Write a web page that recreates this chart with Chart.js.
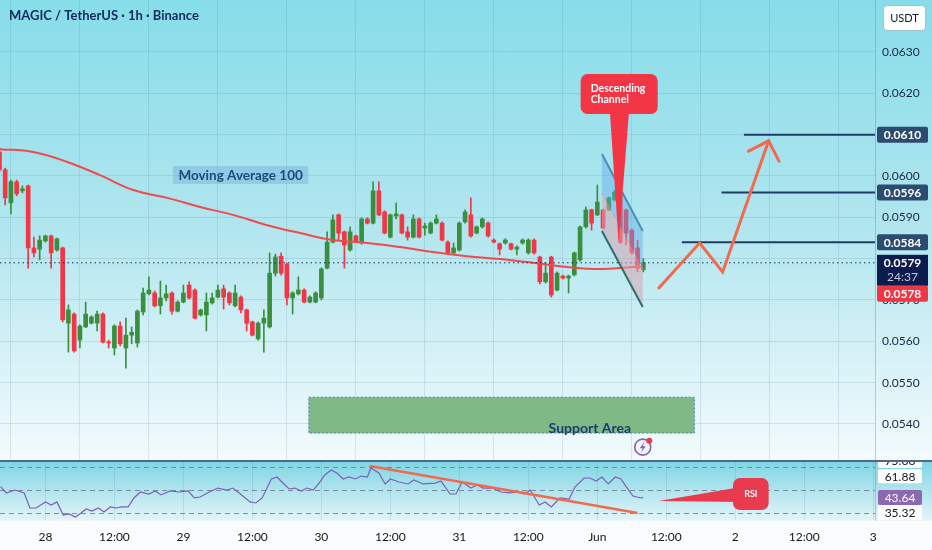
<!DOCTYPE html>
<html>
<head>
<meta charset="utf-8">
<script src="https://cdn.jsdelivr.net/npm/chart.js"></script>
<style>
html, body { margin: 0; padding: 0; }
body { width: 932px; height: 550px; overflow: hidden; background: #fafcfd; }
#main { position: absolute; left: 0; top: 0; width: 932px; height: 460px;
        background: linear-gradient(to bottom, #86dde9 0%, #b2e6ef 50%, #f3fbfd 100%); }
#rsi { position: absolute; left: 0; top: 460px; width: 932px; height: 90px;
       background: linear-gradient(to bottom, #7dd5e4 0px, #e2f4f8 60px, #fafcfd 61px, #fafcfd 90px); }
</style>
</head>
<body>
<div id="main"><canvas id="mainChart"></canvas></div>
<div id="rsi"><canvas id="rsiChart"></canvas></div>
<script>
// hourly candles, first one at May 27 16:00 (hour -8 from May 28 00:00)
const startHour = -8;
const candleOpen = [0.06058,0.06015,0.05935,0.05986,0.05964,0.05976,0.05826,0.05823,0.05843,0.05855,
  0.05821,0.05826,0.05644,0.05666,0.05603,0.05635,0.05644,0.05644,0.05666,0.05598,
  0.05584,0.05637,0.05584,0.05615,0.05596,0.05671,0.05715,0.05717,0.05686,0.05705,
  0.05717,0.05673,0.05695,0.05736,0.05724,0.05664,0.05664,0.05693,0.05707,0.05727,
  0.05717,0.05686,0.05707,0.05676,0.05647,0.05606,0.05644,0.05635,0.05765,0.05806,
  0.05787,0.05705,0.05715,0.05724,0.05695,0.05695,0.05705,0.05777,0.05840,0.05906,
  0.05865,0.05821,0.05855,0.05838,0.05896,0.05886,0.05964,0.05913,0.05852,0.05903,
  0.05906,0.05865,0.05852,0.05896,0.05874,0.05862,0.05886,0.05886,0.05840,0.05814,
  0.05821,0.05889,0.05906,0.05862,0.05877,0.05886,0.05845,0.05836,0.05838,0.05836,
  0.05823,0.05838,0.05814,0.05845,0.05804,0.05744,0.05804,0.05724,0.05758,0.05753,
  0.05761,0.05797,0.05877,0.05918,0.05906,0.05918,0.05918,0.05942,0.05959,0.05918,
  0.05869,0.05826,0.05773];
const candleHigh = [0.06068,0.06019,0.05990,0.05990,0.05976,0.05978,0.05852,0.05855,0.05857,0.05857,
  0.05850,0.05828,0.05688,0.05669,0.05640,0.05695,0.05662,0.05673,0.05669,0.05603,
  0.05640,0.05647,0.05656,0.05635,0.05676,0.05729,0.05756,0.05722,0.05746,0.05736,
  0.05720,0.05698,0.05736,0.05744,0.05727,0.05678,0.05717,0.05717,0.05736,0.05736,
  0.05720,0.05736,0.05710,0.05678,0.05649,0.05647,0.05676,0.05814,0.05811,0.05814,
  0.05790,0.05720,0.05756,0.05727,0.05710,0.05720,0.05778,0.05865,0.05906,0.05908,
  0.05867,0.05877,0.05857,0.05899,0.05899,0.05986,0.05986,0.05916,0.05908,0.05935,
  0.05908,0.05877,0.05906,0.05899,0.05886,0.05889,0.05906,0.05889,0.05843,0.05838,
  0.05889,0.05918,0.05947,0.05879,0.05899,0.05889,0.05848,0.05838,0.05848,0.05838,
  0.05831,0.05848,0.05848,0.05848,0.05806,0.05790,0.05806,0.05768,0.05760,0.05760,
  0.05816,0.05879,0.05925,0.05920,0.05978,0.05920,0.05949,0.05966,0.05964,0.05920,
  0.05872,0.05845,0.05800];
const candleLow = [0.06010,0.05930,0.05908,0.05952,0.05959,0.05777,0.05804,0.05797,0.05840,0.05777,
  0.05818,0.05647,0.05574,0.05574,0.05584,0.05633,0.05642,0.05625,0.05596,0.05584,
  0.05567,0.05589,0.05535,0.05594,0.05586,0.05664,0.05712,0.05683,0.05666,0.05698,
  0.05666,0.05671,0.05693,0.05702,0.05654,0.05661,0.05625,0.05690,0.05705,0.05678,
  0.05688,0.05683,0.05669,0.05625,0.05613,0.05603,0.05574,0.05632,0.05758,0.05760,
  0.05688,0.05666,0.05712,0.05693,0.05693,0.05693,0.05700,0.05775,0.05838,0.05845,
  0.05777,0.05818,0.05840,0.05835,0.05884,0.05884,0.05904,0.05860,0.05850,0.05896,
  0.05860,0.05845,0.05850,0.05850,0.05857,0.05860,0.05884,0.05843,0.05811,0.05811,
  0.05818,0.05886,0.05852,0.05860,0.05874,0.05852,0.05838,0.05809,0.05835,0.05821,
  0.05809,0.05835,0.05811,0.05811,0.05739,0.05741,0.05707,0.05722,0.05751,0.05717,
  0.05758,0.05794,0.05874,0.05869,0.05904,0.05872,0.05916,0.05940,0.05836,0.05833,
  0.05811,0.05768,0.05768];
const candleClose = [0.06015,0.05947,0.05986,0.05957,0.05969,0.05826,0.05814,0.05845,0.05855,0.05814,
  0.05848,0.05652,0.05676,0.05577,0.05637,0.05666,0.05659,0.05666,0.05598,0.05596,
  0.05637,0.05594,0.05615,0.05622,0.05673,0.05717,0.05724,0.05686,0.05705,0.05715,
  0.05673,0.05695,0.05717,0.05705,0.05656,0.05676,0.05695,0.05705,0.05724,0.05707,
  0.05693,0.05717,0.05676,0.05644,0.05615,0.05644,0.05656,0.05765,0.05804,0.05765,
  0.05705,0.05717,0.05724,0.05695,0.05707,0.05717,0.05775,0.05840,0.05894,0.05862,
  0.05833,0.05865,0.05843,0.05896,0.05886,0.05964,0.05906,0.05862,0.05906,0.05908,
  0.05862,0.05852,0.05896,0.05852,0.05879,0.05886,0.05896,0.05845,0.05814,0.05826,
  0.05886,0.05913,0.05855,0.05877,0.05896,0.05855,0.05840,0.05823,0.05845,0.05823,
  0.05828,0.05845,0.05845,0.05814,0.05744,0.05765,0.05712,0.05765,0.05753,0.05758,
  0.05814,0.05877,0.05918,0.05886,0.05937,0.05874,0.05947,0.05961,0.05840,0.05862,
  0.05814,0.05777,0.05790];

// moving average 100
const maHours = [-7.9,-2.1,3.8,9.5,15.3,21.2,26.9,32.6,38.6,44.3,50.0,56.0,61.7,67.4,73.3,79.1,84.8,90.7,96.5,102.2,104.0];
const maValues = [0.06065,0.06058,0.06034,0.06002,0.05966,0.05947,0.05925,0.05906,0.05881,0.05862,0.05845,
  0.05838,0.05828,0.05816,0.05806,0.05799,0.05790,0.05780,0.05775,0.05780,0.05780];

// RSI
const rsiHours = [-7.8,-6.8,-5.3,-3.7,-2.7,-1.6,0.0,1.0,2.0,3.1,4.1,5.2,6.2,7.1,8.1,9.2,10.2,11.3,12.3,13.3,
  14.4,15.4,16.5,18.0,19.1,20.1,21.7,23.3,24.8,25.9,26.9,28.5,30.0,31.6,32.6,33.7,35.6,36.6,37.7,39.3,
  40.3,41.3,42.4,43.4,44.5,45.5,46.6,47.6,48.6,49.7,50.7,51.8,52.8,53.9,54.9,56.0,56.6,58.0,59.1,60.0,
  61.5,63.1,64.1,65.7,67.8,68.8,70.4,71.4,72.5,74.0,75.1,76.1,77.7,79.3,80.8,82.2,83.3,84.3,85.9,86.9,
  88.0,89.5,91.1,92.1,93.7,94.7,95.8,96.8,97.9,99.1,100.1,101.2,102.2,103.6,104.0];
const rsiValues = [52.9,47.5,50.0,47.5,34.6,34.6,39.8,37.2,39.8,28.6,29.5,26.9,30.3,33.8,32.0,34.6,31.2,35.5,34.6,35.5,
  35.5,43.2,48.3,46.6,49.2,45.8,49.2,48.3,49.2,43.2,44.0,48.3,51.7,50.0,51.7,47.5,39.8,38.9,43.2,59.5,
  61.2,56.0,50.9,51.7,49.2,51.7,50.0,56.0,62.9,67.2,64.6,59.5,61.2,59.5,62.0,61.2,68.9,64.6,55.2,59.5,
  56.9,55.2,58.6,55.2,56.0,57.7,46.6,46.6,56.9,51.7,54.3,51.7,51.7,48.3,47.5,48.3,46.6,50.0,37.2,39.8,
  35.5,43.2,42.3,52.6,60.3,60.3,57.7,61.2,55.2,61.2,59.5,51.7,44.9,43.2,43.64];
const rsiGuides = [70, 50, 30];

// axis ticks
const timeTickHours = [0,12,24,36,48,60,72,84,96,108,120,132,144];
const timeTickLabels = ['28','12:00','29','12:00','30','12:00','31','12:00','Jun','12:00','2','12:00','3'];
const priceTicks = [0.0540,0.0550,0.0560,0.0570,0.0580,0.0590,0.0600,0.0610,0.0620,0.0630];
const hiddenPriceTicks = [0.0580, 0.0610];

// drawings
const levelPrices = [0.0610, 0.0596, 0.0584];
const levelStartHours = [121.5, 117.6, 110.7];
const lastPrice = 0.0579;
const maLastValue = 0.0578;
const pathHours = [106.7, 113.8, 117.8, 125.8];
const pathPrices = [0.05729, 0.05838, 0.05768, 0.06085];
const arrowWingHours = [122.3, 127.6];
const arrowWingPrices = [0.06060, 0.06036];
const channelHours = [96.8, 103.9];
const channelUpper = [0.06053, 0.05867];
const channelMid = [0.05959, 0.05777];
const channelLower = [0.05867, 0.05683];
const calloutBoxHours = [93.1, 106.5];
const calloutBoxPrices = [0.06247, 0.06150];
const calloutBaseHours = [98.2, 101.5];
const calloutTip = [99.7, 0.05840];
const supportHours = [45.8, 112.9];
const supportPrices = [0.05465, 0.05378];
const supportLabelAt = [94.7, 0.05390];
const maLabelHours = [22.2, 45.7];
const maLabelPrices = [0.06024, 0.05981];
const iconAt = [103.9, 0.05344];
const rsiTrendHours = [56.4, 103.0];
const rsiTrendValues = [70.6, 30.3];
const rsiCalloutTip = [106.7, 40.6];
const rsiCalloutBoxHours = [119.6, 125.8];
const rsiCalloutBoxValues = [60.3, 32.9];
const rsiTags = [75.00, 61.88, 43.64, 35.32];

const GREEN = '#3a8f3e';
const RED = '#f23645';
const FONT = 'Lato, "Open Sans", sans-serif';
const GRID = 'rgba(80,125,150,0.17)';

const candleHours = candleOpen.map((_, i) => startHour + i);
const candleColors = candleOpen.map((o, i) => candleClose[i] >= o ? GREEN : RED);

function sameValue(a, b) { return Math.abs(a - b) < 1e-9; }

function tag(ctx, yc, text, bg, fg, bold, x0, w, h) {
    ctx.fillStyle = bg;
    ctx.beginPath();
    ctx.roundRect(x0, yc - h / 2, w, h, 2);
    ctx.fill();
    ctx.fillStyle = fg;
    ctx.font = (bold ? 'bold ' : '') + '12px ' + FONT;
    ctx.textAlign = 'center';
    ctx.textBaseline = 'middle';
    ctx.fillText(text, x0 + w / 2, yc + 0.5);
}

// right price scale: fixed width, no extra room for half labels
function fitPriceScale(s) {
    s.width = 57;
    s.paddingTop = 0;
    s.paddingBottom = 0;
}

const xScaleBase = {
    type: 'linear',
    min: -7.9,
    max: 144.3,
    offset: false,
    grid: { color: GRID, drawTicks: false },
    border: { display: false },
    afterBuildTicks: (s) => { s.ticks = timeTickHours.map(v => ({ value: v })); }
};

const mainOverlay = {
    id: 'mainOverlay',
    afterDatasetsDraw(chart) {
        const { ctx, chartArea: a, scales: { x, y } } = chart;
        const X = v => x.getPixelForValue(v);
        const Y = v => y.getPixelForValue(v);

        ctx.save();
        ctx.beginPath();
        ctx.rect(a.left, a.top, a.right - a.left, a.bottom - a.top);
        ctx.clip();

        // support area
        const sx0 = X(supportHours[0]), sx1 = X(supportHours[1]);
        const sy0 = Y(supportPrices[0]), sy1 = Y(supportPrices[1]);
        ctx.fillStyle = '#7fba86';
        ctx.fillRect(sx0, sy0, sx1 - sx0, sy1 - sy0);
        ctx.setLineDash([2, 2]);
        ctx.strokeStyle = 'rgba(70,110,190,0.8)';
        ctx.lineWidth = 1;
        ctx.strokeRect(sx0, sy0, sx1 - sx0, sy1 - sy0);
        ctx.setLineDash([]);
        ctx.font = 'bold 14px ' + FONT;
        ctx.textAlign = 'center';
        ctx.textBaseline = 'middle';
        ctx.fillStyle = '#1d3b72';
        ctx.fillText('Support Area', X(supportLabelAt[0]), Y(supportLabelAt[1]));

        // last price dotted line
        ctx.strokeStyle = '#1a2a5a';
        ctx.lineWidth = 1;
        ctx.setLineDash([1.5, 3]);
        ctx.beginPath();
        ctx.moveTo(a.left, Y(lastPrice));
        ctx.lineTo(a.right, Y(lastPrice));
        ctx.stroke();
        ctx.setLineDash([]);

        // target levels
        ctx.strokeStyle = '#1f3d66';
        ctx.lineWidth = 2;
        levelPrices.forEach((p, i) => {
            ctx.beginPath();
            ctx.moveTo(X(levelStartHours[i]), Y(p));
            ctx.lineTo(a.right, Y(p));
            ctx.stroke();
        });

        // descending channel
        const cx0 = X(channelHours[0]), cx1 = X(channelHours[1]);
        ctx.fillStyle = 'rgba(95,170,235,0.42)';
        ctx.beginPath();
        ctx.moveTo(cx0, Y(channelUpper[0]));
        ctx.lineTo(cx1, Y(channelUpper[1]));
        ctx.lineTo(cx1, Y(channelMid[1]));
        ctx.lineTo(cx0, Y(channelMid[0]));
        ctx.closePath();
        ctx.fill();
        ctx.fillStyle = 'rgba(215,165,180,0.55)';
        ctx.beginPath();
        ctx.moveTo(cx0, Y(channelMid[0]));
        ctx.lineTo(cx1, Y(channelMid[1]));
        ctx.lineTo(cx1, Y(channelLower[1]));
        ctx.lineTo(cx0, Y(channelLower[0]));
        ctx.closePath();
        ctx.fill();
        ctx.strokeStyle = 'rgba(240,120,80,0.55)';
        ctx.lineWidth = 1;
        ctx.setLineDash([3, 3]);
        ctx.beginPath();
        ctx.moveTo(cx0, Y(channelMid[0]));
        ctx.lineTo(cx1, Y(channelMid[1]));
        ctx.stroke();
        ctx.setLineDash([]);
        ctx.lineWidth = 2;
        ctx.strokeStyle = '#4b8db3';
        ctx.beginPath();
        ctx.moveTo(cx0, Y(channelUpper[0]));
        ctx.lineTo(cx1, Y(channelUpper[1]));
        ctx.stroke();
        ctx.strokeStyle = '#2e6e68';
        ctx.beginPath();
        ctx.moveTo(cx0, Y(channelLower[0]));
        ctx.lineTo(cx1, Y(channelLower[1]));
        ctx.stroke();

        // moving average label
        const mx0 = X(maLabelHours[0]), mx1 = X(maLabelHours[1]);
        const my0 = Y(maLabelPrices[0]), my1 = Y(maLabelPrices[1]);
        ctx.fillStyle = 'rgba(120,180,220,0.5)';
        ctx.fillRect(mx0, my0, mx1 - mx0, my1 - my0);
        ctx.fillStyle = '#1f4a78';
        ctx.font = 'bold 13.5px ' + FONT;
        ctx.textAlign = 'center';
        ctx.textBaseline = 'middle';
        ctx.fillText('Moving Average 100', (mx0 + mx1) / 2, (my0 + my1) / 2 + 0.5);

        // projected path
        ctx.strokeStyle = '#f26a4d';
        ctx.lineWidth = 3;
        ctx.lineJoin = 'miter';
        ctx.lineCap = 'round';
        ctx.beginPath();
        pathHours.forEach((h, i) => {
            if (i === 0) ctx.moveTo(X(h), Y(pathPrices[i]));
            else ctx.lineTo(X(h), Y(pathPrices[i]));
        });
        ctx.stroke();
        const tipX = X(pathHours[pathHours.length - 1]), tipY = Y(pathPrices[pathPrices.length - 1]);
        ctx.beginPath();
        ctx.moveTo(X(arrowWingHours[0]), Y(arrowWingPrices[0]));
        ctx.lineTo(tipX, tipY);
        ctx.lineTo(X(arrowWingHours[1]), Y(arrowWingPrices[1]));
        ctx.stroke();

        // callout
        const bx0 = X(calloutBoxHours[0]), bx1 = X(calloutBoxHours[1]);
        const by0 = Y(calloutBoxPrices[0]), by1 = Y(calloutBoxPrices[1]);
        ctx.fillStyle = RED;
        ctx.beginPath();
        ctx.roundRect(bx0, by0, bx1 - bx0, by1 - by0, 7);
        ctx.fill();
        ctx.beginPath();
        ctx.moveTo(X(calloutBaseHours[0]), by1 - 1);
        ctx.lineTo(X(calloutTip[0]), Y(calloutTip[1]));
        ctx.lineTo(X(calloutBaseHours[1]), by1 - 1);
        ctx.closePath();
        ctx.fill();
        ctx.fillStyle = '#ffffff';
        ctx.font = 'bold 10.5px ' + FONT;
        ctx.textAlign = 'left';
        ctx.textBaseline = 'middle';
        ctx.fillText('Descending', bx0 + 10, by0 + 15);
        ctx.fillText('Channel', bx0 + 10, by0 + 26);

        // alert icon
        const ix = X(iconAt[0]), iy = Y(iconAt[1]);
        ctx.strokeStyle = '#8e5cc0';
        ctx.lineWidth = 1.6;
        ctx.beginPath();
        ctx.arc(ix, iy, 8, 0, Math.PI * 2);
        ctx.stroke();
        ctx.fillStyle = '#8e5cc0';
        ctx.beginPath();
        ctx.moveTo(ix + 2, iy - 6);
        ctx.lineTo(ix - 3, iy + 1);
        ctx.lineTo(ix, iy + 1);
        ctx.lineTo(ix - 2, iy + 6);
        ctx.lineTo(ix + 3, iy - 1);
        ctx.lineTo(ix, iy - 1);
        ctx.closePath();
        ctx.fill();
        ctx.fillStyle = RED;
        ctx.beginPath();
        ctx.arc(ix + 6.5, iy - 6.5, 3, 0, Math.PI * 2);
        ctx.fill();

        // title
        ctx.fillStyle = '#142a5c';
        ctx.font = 'bold 13px ' + FONT;
        ctx.textAlign = 'left';
        ctx.textBaseline = 'middle';
        ctx.fillText('MAGIC / TetherUS \u00b7 1h \u00b7 Binance', 9, 16);
        ctx.restore();

        // price scale tags
        ctx.save();
        const tx = a.right + 2, tw = 51;
        levelPrices.forEach(p => tag(ctx, Y(p), p.toFixed(4), '#2c4b70', '#ffffff', true, tx, tw, 16));
        const lastTop = Y(lastPrice) - 8;
        ctx.fillStyle = '#0d1c4f';
        ctx.fillRect(tx, lastTop, tw, 31);
        ctx.fillStyle = '#ffffff';
        ctx.font = 'bold 12px ' + FONT;
        ctx.textAlign = 'center';
        ctx.textBaseline = 'middle';
        ctx.fillText(lastPrice.toFixed(4), tx + tw / 2, lastTop + 8.5);
        ctx.fillStyle = '#c3c8d6';
        ctx.font = '12px ' + FONT;
        ctx.fillText('24:37', tx + tw / 2, lastTop + 22.5);
        tag(ctx, lastTop + 31 + 8, maLastValue.toFixed(4), RED, '#ffffff', true, tx, tw, 16);

        // currency box
        ctx.fillStyle = '#ffffff';
        ctx.strokeStyle = 'rgba(120,140,160,0.45)';
        ctx.lineWidth = 1;
        ctx.beginPath();
        ctx.roundRect(883.5, 5.5, 42, 25, 4);
        ctx.fill();
        ctx.stroke();
        ctx.fillStyle = '#131722';
        ctx.font = '11px ' + FONT;
        ctx.fillText('USDT', 904.5, 18);
        ctx.restore();
    }
};

const mainChart = new Chart(document.getElementById('mainChart'), {
    type: 'bar',
    data: {
        datasets: [
            {
                type: 'line',
                data: maHours.map((h, i) => ({ x: h, y: maValues[i] })),
                borderColor: '#ef4a4f',
                borderWidth: 2,
                pointRadius: 0,
                tension: 0.4,
                order: 0
            },
            {
                data: candleHours.map((h, i) => ({ x: h, y: [candleOpen[i], candleClose[i]] })),
                backgroundColor: candleColors,
                barThickness: 4,
                minBarLength: 1,
                grouped: false,
                order: 1
            },
            {
                data: candleHours.map((h, i) => ({ x: h, y: [candleLow[i], candleHigh[i]] })),
                backgroundColor: candleColors,
                barThickness: 1,
                grouped: false,
                order: 2
            }
        ]
    },
    options: {
        responsive: true,
        maintainAspectRatio: false,
        animation: false,
        layout: { padding: 0, autoPadding: false },
        plugins: { legend: { display: false }, tooltip: { enabled: false } },
        scales: {
            x: Object.assign({}, xScaleBase, {
                ticks: { display: false },
                afterFit: (s) => { s.height = 0; }
            }),
            y: {
                position: 'right',
                min: 0.053129,
                max: 0.064258,
                grid: { color: GRID, drawTicks: false },
                border: { color: 'rgba(80,125,150,0.35)' },
                afterBuildTicks: (s) => { s.ticks = priceTicks.map(v => ({ value: v })); },
                afterFit: fitPriceScale,
                ticks: {
                    padding: 7,
                    color: '#1b2646',
                    font: { family: FONT, size: 12 },
                    callback: (v) => hiddenPriceTicks.some(h => sameValue(h, v)) ? '' : v.toFixed(4)
                }
            }
        }
    },
    plugins: [mainOverlay]
});

const rsiOverlay = {
    id: 'rsiOverlay',
    beforeDatasetsDraw(chart) {
        const { ctx, chartArea: a, scales: { y } } = chart;
        ctx.save();
        ctx.strokeStyle = 'rgba(105,110,125,0.75)';
        ctx.lineWidth = 1.2;
        ctx.setLineDash([5, 4]);
        rsiGuides.forEach(g => {
            const gy = Math.round(y.getPixelForValue(g)) + 0.5;
            ctx.beginPath();
            ctx.moveTo(a.left, gy);
            ctx.lineTo(a.right, gy);
            ctx.stroke();
        });
        ctx.restore();
    },
    afterDatasetsDraw(chart) {
        const { ctx, scales: { x, y } } = chart;
        const X = v => x.getPixelForValue(v);
        const Y = v => y.getPixelForValue(v);
        ctx.save();
        const bx0 = X(rsiCalloutBoxHours[0]), bx1 = X(rsiCalloutBoxHours[1]);
        const by0 = Y(rsiCalloutBoxValues[0]), by1 = Y(rsiCalloutBoxValues[1]);
        ctx.fillStyle = '#ea3a4d';
        ctx.beginPath();
        ctx.moveTo(X(rsiCalloutTip[0]), Y(rsiCalloutTip[1]));
        ctx.lineTo(bx0 + 8, by0 + 9);
        ctx.lineTo(bx0 + 8, by1 - 8);
        ctx.closePath();
        ctx.fill();
        ctx.beginPath();
        ctx.roundRect(bx0, by0, bx1 - bx0, by1 - by0, 7);
        ctx.fill();
        ctx.fillStyle = '#ffffff';
        ctx.font = 'bold 9px ' + FONT;
        ctx.textAlign = 'center';
        ctx.textBaseline = 'middle';
        ctx.fillText('RSI', (bx0 + bx1) / 2, (by0 + by1) / 2);
        ctx.restore();
    },
    afterDraw(chart) {
        const { ctx, chartArea: a, scales: { y } } = chart;
        const Y = v => y.getPixelForValue(v);
        ctx.save();
        const tx = a.right + 3, tw = 44;
        tag(ctx, Y(rsiTags[0]), rsiTags[0].toFixed(2), '#ffffff', '#131722', false, tx, tw, 14);
        tag(ctx, Y(rsiTags[1]), rsiTags[1].toFixed(2), '#ffffff', '#131722', false, tx, tw, 14);
        const py = Y(rsiTags[2]);
        tag(ctx, py, rsiTags[2].toFixed(2), '#8b68b0', '#ffffff', false, tx, tw, 15);
        tag(ctx, Math.max(Y(rsiTags[3]), py + 15), rsiTags[3].toFixed(2), '#ffffff', '#131722', false, tx, tw, 15);
        // pane separator
        ctx.strokeStyle = '#56658a';
        ctx.lineWidth = 2;
        ctx.beginPath();
        ctx.moveTo(0, 1);
        ctx.lineTo(chart.width, 1);
        ctx.stroke();
        ctx.restore();
    }
};

const rsiChart = new Chart(document.getElementById('rsiChart'), {
    type: 'line',
    data: {
        datasets: [
            {
                data: rsiTrendHours.map((h, i) => ({ x: h, y: rsiTrendValues[i] })),
                borderColor: '#f26a4d',
                borderWidth: 2.5,
                pointRadius: 0,
                order: 0
            },
            {
                data: rsiHours.map((h, i) => ({ x: h, y: rsiValues[i] })),
                borderColor: '#7e5fb8',
                borderWidth: 1.2,
                pointRadius: 0,
                tension: 0,
                order: 1
            }
        ]
    },
    options: {
        responsive: true,
        maintainAspectRatio: false,
        animation: false,
        layout: { padding: { top: 1 }, autoPadding: false },
        plugins: { legend: { display: false }, tooltip: { enabled: false } },
        scales: {
            x: Object.assign({}, xScaleBase, {
                afterFit: (s) => { s.height = 30; },
                ticks: {
                    padding: 10,
                    autoSkip: false,
                    maxRotation: 0,
                    color: '#131722',
                    font: { family: FONT, size: 12 },
                    callback: (v) => timeTickLabels[timeTickHours.indexOf(v)]
                }
            }),
            y: {
                position: 'right',
                min: 24.3,
                max: 74.9,
                grid: { display: false },
                border: { color: 'rgba(80,125,150,0.35)' },
                ticks: { display: false },
                afterFit: fitPriceScale
            }
        }
    },
    plugins: [rsiOverlay]
});
</script>
</body>
</html>
